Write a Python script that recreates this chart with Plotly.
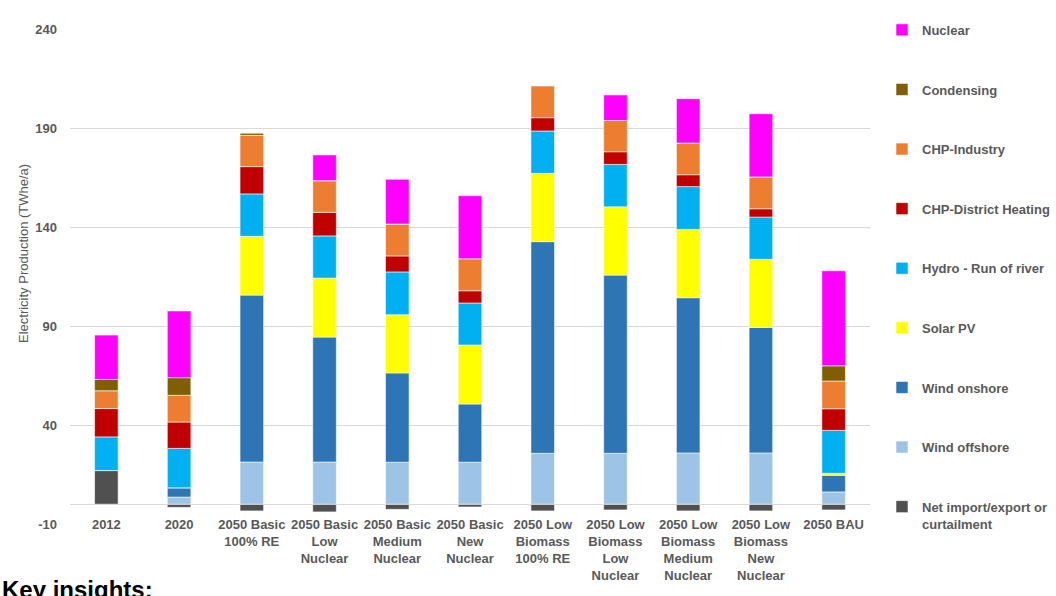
import plotly.graph_objects as go

categories = [
    "2012", "2020", "2050 Basic<br>100% RE", "2050 Basic<br>Low<br>Nuclear",
    "2050 Basic<br>Medium<br>Nuclear", "2050 Basic<br>New<br>Nuclear",
    "2050 Low<br>Biomass<br>100% RE", "2050 Low<br>Biomass<br>Low<br>Nuclear",
    "2050 Low<br>Biomass<br>Medium<br>Nuclear", "2050 Low<br>Biomass<br>New<br>Nuclear",
    "2050 BAU",
]

net_import = [17.0, -1.6, -3.4, -3.9, -2.6, -1.4, -3.4, -2.9, -3.4, -3.4, -2.9]
wind_offshore = [0.0, 3.6, 21.3, 21.3, 21.2, 21.2, 25.7, 25.7, 25.9, 25.9, 6.2]
wind_onshore = [0.0, 4.7, 84.3, 63.1, 45.1, 29.4, 106.9, 90.0, 78.4, 63.4, 8.4]
solar_pv = [0.0, 0.0, 29.7, 29.8, 29.4, 29.8, 34.5, 34.5, 34.5, 34.4, 1.0]
hydro = [17.0, 19.9, 21.4, 21.3, 21.6, 21.2, 21.4, 21.4, 21.6, 21.3, 21.7]
chp_dh = [14.3, 13.3, 13.8, 11.9, 8.1, 6.2, 6.7, 6.4, 6.0, 4.2, 10.9]
chp_industry = [9.0, 13.5, 15.8, 16.0, 16.1, 16.2, 16.2, 15.8, 16.0, 16.1, 14.0]
condensing = [5.7, 8.9, 1.2, 0.0, 0.0, 0.0, 0.0, 0.0, 0.0, 0.0, 7.7]
nuclear = [22.4, 33.7, 0.0, 13.0, 22.6, 31.8, 0.0, 12.9, 22.4, 31.9, 48.0]

series = [
    ("Net import/export or<br>curtailment", net_import, "#505050"),
    ("Wind offshore", wind_offshore, "#9DC3E6"),
    ("Wind onshore", wind_onshore, "#2E75B6"),
    ("Solar PV", solar_pv, "#FFFF00"),
    ("Hydro - Run of river", hydro, "#00B0F0"),
    ("CHP-District Heating", chp_dh, "#C00000"),
    ("CHP-Industry", chp_industry, "#ED7D31"),
    ("Condensing", condensing, "#7F6000"),
    ("Nuclear", nuclear, "#FF00FF"),
]

y_ticks = [-10, 40, 90, 140, 190, 240]
y_tick_labels = ["-10", "40", "90", "140", "190", "240"]

fig = go.Figure()
for i, (name, vals, color) in enumerate(series):
    fig.add_trace(go.Bar(
        name=name, x=categories, y=vals, legendgroup=name,
        legendrank=1000 - i,
        marker=dict(color=color, line=dict(color="rgba(255,255,255,0.7)", width=0.8)),
    ))

grey = "#595959"
fig.update_layout(
    width=1056, height=596,
    margin=dict(l=70, r=169, t=29, b=72),
    paper_bgcolor="white", plot_bgcolor="white",
    barmode="relative", bargap=0.676,
    font=dict(family="Liberation Sans, Arial, sans-serif", size=13, color=grey),
    showlegend=True,
    legend=dict(
        traceorder="grouped", tracegroupgap=39.7, maxheight=590,
        xref="container", yref="container", x=882 / 1056, y=0.975,
        xanchor="left", yanchor="top", valign="top",
        font=dict(size=13, color=grey, weight="bold"),
        bgcolor="rgba(0,0,0,0)",
    ),
    xaxis=dict(
        showgrid=False, showline=False, ticks="",
        tickfont=dict(size=13, color=grey, weight="bold"),
        ticklabelstandoff=-9,
    ),
    yaxis=dict(
        range=[-10, 240], tickvals=y_ticks, ticktext=y_tick_labels,
        showgrid=True, gridcolor="#D9D9D9",
        gridwidth=1, zeroline=True, zerolinecolor="#D9D9D9", zerolinewidth=1,
        showline=False, ticks="",
        tickfont=dict(size=13, color=grey, weight="bold"),
        ticklabelstandoff=12,
    ),
    annotations=[
        dict(text="Electricity Production (TWhe/a)", textangle=-90,
             xref="paper", yref="paper", x=-48 / 817, y=(524 - 253) / 495,
             xanchor="center", yanchor="middle", showarrow=False,
             font=dict(size=13, color=grey)),
        dict(text="Key insights:", xref="paper", yref="paper",
             x=-71 / 817, y=(524 - 574) / 495, xanchor="left", yanchor="top",
             showarrow=False, font=dict(size=24, color="black", weight="bold")),
    ],
)

fig.write_html(
    "out.html",
    config={"displayModeBar": False},
    post_script="document.body.style.margin='0';document.body.style.overflow='hidden';",
)
